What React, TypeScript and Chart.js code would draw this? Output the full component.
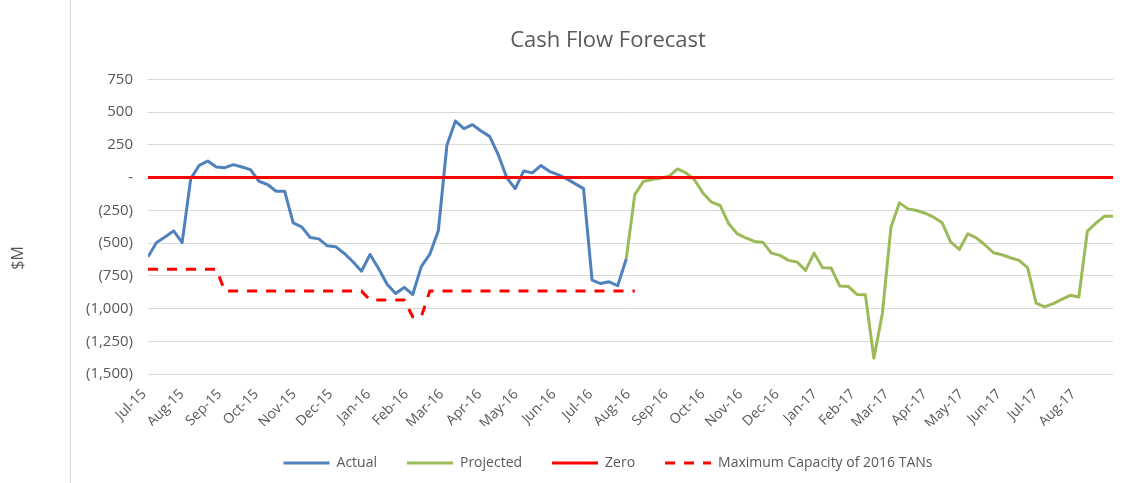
import React, { useEffect, useRef } from 'react';
import { Chart, registerables } from 'chart.js';

Chart.register(...registerables);

// ---------- data ----------
const CHART_TITLE = 'Cash Flow Forecast';
const Y_TITLE = '$M';

const MONTH_LABELS = [
  'Jul-15', 'Aug-15', 'Sep-15', 'Oct-15', 'Nov-15', 'Dec-15',
  'Jan-16', 'Feb-16', 'Mar-16', 'Apr-16', 'May-16', 'Jun-16',
  'Jul-16', 'Aug-16', 'Sep-16', 'Oct-16', 'Nov-16', 'Dec-16',
  'Jan-17', 'Feb-17', 'Mar-17', 'Apr-17', 'May-17', 'Jun-17',
  'Jul-17', 'Aug-17',
];

// weekly observations, first week = 1 Jul 2015
const FIRST_YEAR = 2015;
const FIRST_MONTH = 6; // July (0-based)
const WEEK_COUNT = 114;

const ACTUAL_START_WEEK = 0;
const ACTUAL = [
  -605, -496, -453, -407, -496, -10, 94, 127, 81, 76,
  99, 81, 61, -28, -53, -104, -104, -346, -376, -458,
  -468, -521, -529, -580, -643, -715, -587, -694, -814, -885,
  -839, -893, -680, -585, -405, 247, 432, 374, 404, 356,
  315, 178, 0, -84, 51, 36, 92, 48, 23, -8,
  -46, -84, -783, -809, -796, -826, -622,
];

const PROJECTED_START_WEEK = 56;
const PROJECTED = [
  -622, -130, -30, -15, -5, 10, 66, 36, -18, -119,
  -188, -213, -353, -429, -460, -488, -493, -577, -594, -632,
  -645, -709, -577, -688, -691, -828, -831, -892, -894, -1380,
  -1034, -378, -193, -239, -251, -272, -302, -345, -493, -549,
  -429, -460, -513, -574, -589, -612, -632, -688, -958, -988,
  -963, -930, -899, -912, -409, -348, -295, -295,
];

const CAPACITY_START_WEEK = 0;
const CAPACITY = [
  -700, -700, -700, -700, -700, -700, -700, -700, -700, -867,
  -867, -867, -867, -867, -867, -867, -867, -867, -867, -867,
  -867, -867, -867, -867, -867, -867, -935, -935, -935, -935,
  -935, -1063, -1063, -867, -867, -867, -867, -867, -867, -867,
  -867, -867, -867, -867, -867, -867, -867, -867, -867, -867,
  -867, -867, -867, -867, -867, -867, -867, -867,
];

const ZERO_LEVEL = 0;

const Y_MIN = -1500;
const Y_MAX = 750;
const Y_STEP = 250;

const SERIES_NAMES = ['Actual', 'Projected', 'Zero', 'Maximum Capacity of 2016 TANs'];

// ---------- helpers ----------
const DAY_MS = 86400000;
const firstWeekTime = Date.UTC(FIRST_YEAR, FIRST_MONTH, 1);
const MONTH_TICK_WEEKS = MONTH_LABELS.map(
  (_, i) => (Date.UTC(FIRST_YEAR, FIRST_MONTH + i, 1) - firstWeekTime) / (7 * DAY_MS)
);

const toPoints = (values: number[], start: number) =>
  values.map((y, i) => ({ x: start + i, y }));

const fmtY = (v: number) => {
  if (v === 0) return '-';
  const s = Math.abs(v).toLocaleString('en-US');
  return v < 0 ? `(${s})` : s;
};

const FONT = 'Open Sans';
const TEXT = '#595959';

const yTitlePlugin = {
  id: 'yTitleFixed',
  afterLayout(chart: any) {
    // widen the y-axis label area so tick labels are not clipped
    if (chart.scales.y) chart.scales.y.left = 74;
  },
  afterDraw(chart: any) {
    const ctx = chart.ctx;
    ctx.save();
    ctx.translate(18, 258);
    ctx.rotate(-Math.PI / 2);
    ctx.font = `16px "${FONT}"`;
    ctx.fillStyle = TEXT;
    ctx.textAlign = 'center';
    ctx.textBaseline = 'middle';
    ctx.fillText(Y_TITLE, 0, 0);
    ctx.restore();
  },
};

export default function App() {
  const ref = useRef<HTMLCanvasElement>(null);

  useEffect(() => {
    if (!ref.current) return;
    const weeks = Array.from({ length: WEEK_COUNT }, (_, i) => i);
    const chart = new Chart(ref.current, {
      type: 'line',
      data: {
        datasets: [
          {
            label: SERIES_NAMES[0],
            data: toPoints(ACTUAL, ACTUAL_START_WEEK),
            borderColor: '#4F81BD',
            backgroundColor: '#4F81BD',
            borderWidth: 3,
            pointRadius: 0,
            tension: 0,
            borderJoinStyle: 'round',
            order: 4,
          },
          {
            label: SERIES_NAMES[1],
            data: toPoints(PROJECTED, PROJECTED_START_WEEK),
            borderColor: '#9BBB59',
            backgroundColor: '#9BBB59',
            borderWidth: 3,
            pointRadius: 0,
            tension: 0,
            borderJoinStyle: 'round',
            order: 3,
          },
          {
            label: SERIES_NAMES[2],
            data: weeks.map((w) => ({ x: w, y: ZERO_LEVEL })),
            borderColor: '#FF0000',
            backgroundColor: '#FF0000',
            borderWidth: 3,
            pointRadius: 0,
            order: 2,
          },
          {
            label: SERIES_NAMES[3],
            data: toPoints(CAPACITY, CAPACITY_START_WEEK),
            borderColor: '#FF0000',
            backgroundColor: '#FF0000',
            borderWidth: 3,
            borderDash: [10, 9],
            pointRadius: 0,
            tension: 0,
            order: 1,
          },
        ],
      },
      options: {
        responsive: false,
        animation: false,
        devicePixelRatio: 1,
        layout: { padding: { left: 103, right: 103, top: 0, bottom: 3 } },
        plugins: {
          title: {
            display: true,
            text: CHART_TITLE,
            color: TEXT,
            font: { family: FONT, size: 22, weight: 'normal' },
            padding: { top: 28, bottom: 25 },
          },
          legend: {
            position: 'bottom',
            labels: {
              usePointStyle: true,
              pointStyle: 'line',
              pointStyleWidth: 46,
              padding: 30,
              color: TEXT,
              font: { family: FONT, size: 14 },
              generateLabels: (c: any) =>
                c.data.datasets.map((ds: any, i: number) => ({
                  text: ds.label,
                  fillStyle: ds.borderColor,
                  strokeStyle: ds.borderColor,
                  fontColor: TEXT,
                  lineWidth: ds.borderWidth,
                  lineDash: ds.borderDash ? ds.borderDash : [],
                  lineDashOffset: 0,
                  lineCap: 'butt',
                  lineJoin: 'miter',
                  pointStyle: 'line',
                  rotation: 0,
                  hidden: false,
                  datasetIndex: i,
                })),
            },
          },
          tooltip: { enabled: false },
        },
        scales: {
          x: {
            type: 'linear',
            min: 0,
            max: WEEK_COUNT - 1,
            grid: { display: false },
            border: { display: false },
            afterBuildTicks: (s: any) => {
              s.ticks = MONTH_TICK_WEEKS.map((v) => ({ value: v }));
            },
            afterFit: (s: any) => {
              s.height = 52;
            },
            ticks: {
              autoSkip: false,
              minRotation: 45,
              maxRotation: 45,
              padding: 4,
              labelOffset: -4,
              color: TEXT,
              font: { family: FONT, size: 14 },
              callback: (_v: any, i: number) => MONTH_LABELS[i],
            },
          },
          y: {
            min: Y_MIN,
            max: Y_MAX,
            afterFit: (s: any) => {
              s.width = 45;
            },
            ticks: {
              stepSize: Y_STEP,
              padding: 15,
              color: TEXT,
              font: { family: FONT, size: 15 },
              callback: (v: any) => fmtY(Number(v)),
            },
            grid: { color: '#D9D9D9', lineWidth: 1, drawTicks: false, tickLength: 0 },
            border: { display: false },
          },
        },
      },
      plugins: [yTitlePlugin],
    } as any);
    return () => chart.destroy();
  }, []);

  return (
    <div
      style={{
        position: 'fixed',
        left: 0,
        top: 0,
        width: 1134,
        height: 483,
        overflow: 'hidden',
        background: '#ffffff',
      }}
    >
      <canvas ref={ref} width={1216} height={483} style={{ display: 'block', width: 1216, height: 483 }} />
      <div
        style={{
          position: 'absolute',
          left: 70,
          top: 0,
          width: 1,
          height: 483,
          background: '#D9D9D9',
        }}
      />
    </div>
  );
}
